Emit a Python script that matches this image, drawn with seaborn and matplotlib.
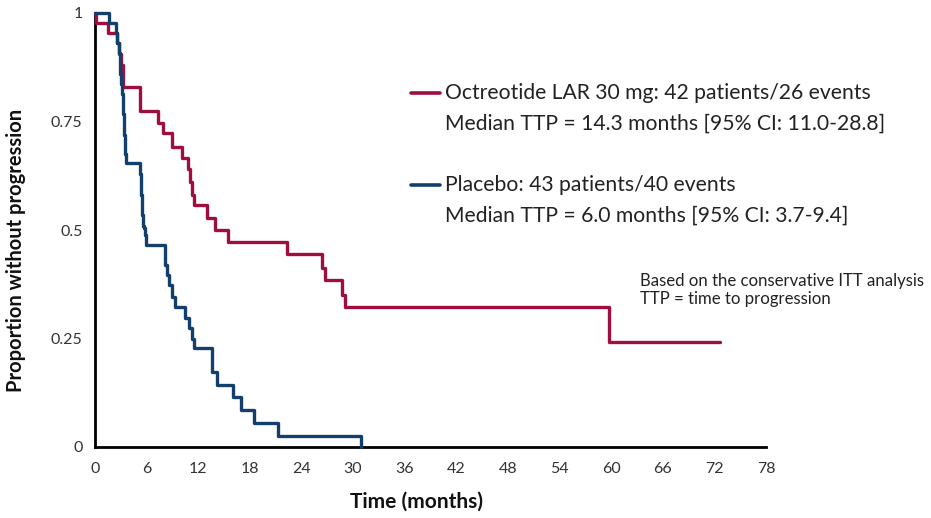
import numpy as np
import pandas as pd
import matplotlib
matplotlib.use("Agg")
import matplotlib.pyplot as plt
import seaborn as sns
from matplotlib.lines import Line2D

# ---- data ----
oct_time = [0.0, 0.1, 1.5, 2.5, 2.8, 3.0, 3.2, 5.2, 7.3, 7.9, 9.0, 10.1, 10.8, 11.0,
            11.3, 11.5, 13.0, 14.0, 15.5, 22.3, 26.4, 26.7, 28.7, 29.1, 59.8, 72.7]
oct_surv = [1.0, 0.977, 0.954, 0.93, 0.905, 0.88, 0.83, 0.774, 0.746, 0.723, 0.691, 0.666,
            0.64, 0.61, 0.58, 0.557, 0.528, 0.50, 0.472, 0.445, 0.412, 0.385, 0.35, 0.323,
            0.242, 0.242]

pla_time = [0.0, 1.6, 2.4, 2.6, 2.75, 2.85, 2.95, 3.05, 3.15, 3.25, 3.3, 3.35, 3.4, 3.45,
            3.5, 3.55, 5.2, 5.3, 5.45, 5.55, 5.65, 5.8, 5.95, 8.1, 8.4, 8.6, 8.95, 9.3,
            10.5, 10.9, 11.3, 11.5, 13.6, 14.2, 16.0, 17.0, 18.5, 21.3, 30.9]
pla_surv = [1.0, 0.977, 0.953, 0.93, 0.907, 0.884, 0.86, 0.837, 0.814, 0.79, 0.767, 0.744,
            0.72, 0.698, 0.676, 0.654, 0.63, 0.58, 0.535, 0.51, 0.505, 0.488, 0.465, 0.419,
            0.396, 0.373, 0.346, 0.323, 0.297, 0.274, 0.25, 0.228, 0.173, 0.143, 0.115,
            0.085, 0.055, 0.025, 0.0]

arm_names = ["Octreotide LAR 30 mg", "Placebo"]
arm_colors = ["#9E0F3E", "#123F6B"]

x_ticks = list(range(0, 79, 6))
y_ticks = [0, 0.25, 0.5, 0.75, 1]
y_tick_labels = ["0", "0.25", "0.5", "0.75", "1"]

legend_lines = [
    ("Octreotide LAR 30 mg: 42 patients/26 events",
     "Median TTP = 14.3 months [95% CI: 11.0-28.8]"),
    ("Placebo: 43 patients/40 events",
     "Median TTP = 6.0 months [95% CI: 3.7-9.4]"),
]
note_text = "Based on the conservative ITT analysis\nTTP = time to progression"

# ---- build table ----
df = pd.concat([
    pd.DataFrame({"time": oct_time, "surv": oct_surv, "arm": arm_names[0]}),
    pd.DataFrame({"time": pla_time, "surv": pla_surv, "arm": arm_names[1]}),
], ignore_index=True)

sns.set_theme(style="white")
plt.rcParams['font.family'] = ['Lato', 'DejaVu Sans']

W, H = 931, 518
fig = plt.figure(figsize=(W / 100, H / 100), dpi=100)
ax = fig.add_axes([95 / W, 1 - 447 / H, (766 - 95) / W, (447 - 13) / H])

sns.lineplot(data=df, x="time", y="surv", hue="arm",
             palette=dict(zip(arm_names, arm_colors)),
             estimator=None, drawstyle="steps-post", linewidth=2.4,
             legend=False, ax=ax, clip_on=False, zorder=3)

ax.set_xlim(0, 78)
ax.set_ylim(0, 1)
ax.set_xticks(x_ticks)
ax.set_xticklabels([str(t) for t in x_ticks])
ax.set_yticks(y_ticks)
ax.set_yticklabels(y_tick_labels)

for s in ["top", "right"]:
    ax.spines[s].set_visible(False)
for s in ["left", "bottom"]:
    ax.spines[s].set_color("black")
    ax.spines[s].set_linewidth(2)

ax.tick_params(axis="both", direction="out", length=4, width=1, color="#555555",
               labelsize=11.5, labelcolor="#333333", pad=5)
ax.tick_params(axis="x", pad=7)

ax.set_xlabel("Time (months)", fontsize=15, fontweight="bold", color="#111111")
ax.xaxis.set_label_coords((416 - 95) / (766 - 95), -0.103)
ax.set_ylabel("Proportion without progression", fontsize=14.5, fontweight="bold",
              color="#111111")
ax.yaxis.set_label_coords(-0.103, (447 - 250) / 434)

# legend drawn as figure text
rows = [(93, 124), (185, 216)]
for (l1, l2), (y1, y2), col in zip(legend_lines, rows, arm_colors):
    fig.add_artist(Line2D([411 / W, 440 / W], [1 - y1 / H] * 2,
                          transform=fig.transFigure, color=col, linewidth=2.6))
    fig.text(445 / W, 1 - y1 / H, l1, fontsize=15.2, va="center", ha="left",
             color="#222222")
    fig.text(445 / W, 1 - y2 / H, l2, fontsize=15.2, va="center", ha="left",
             color="#222222")

fig.text(640 / W, 1 - 290 / H, note_text, fontsize=12.1, va="center", ha="left",
         color="#222222", linespacing=1.15)

fig.savefig("out.png", dpi=100, facecolor="white")
